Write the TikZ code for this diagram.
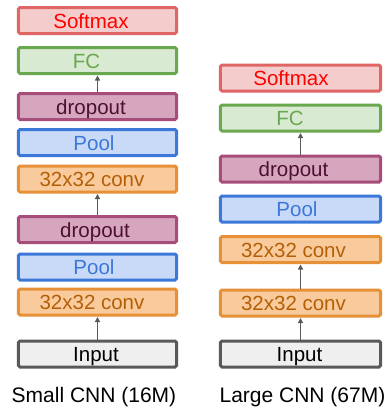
\documentclass[tikz,border=0pt]{standalone}
\usepackage{fontspec}
\setmainfont{Liberation Sans}
\usetikzlibrary{arrows.meta}
\definecolor{smF}{HTML}{F4CCCC}\definecolor{smD}{HTML}{E06666}\definecolor{smT}{HTML}{FF0000}
\definecolor{fcF}{HTML}{D9EAD3}\definecolor{fcD}{HTML}{6AA84F}\definecolor{fcT}{HTML}{6AA84F}
\definecolor{doF}{HTML}{D5A6BD}\definecolor{doD}{HTML}{A64D79}\definecolor{doT}{HTML}{4C1130}
\definecolor{plF}{HTML}{C9DAF8}\definecolor{plD}{HTML}{3C78D8}\definecolor{plT}{HTML}{3C78D8}
\definecolor{cvF}{HTML}{F9CB9C}\definecolor{cvD}{HTML}{E69138}\definecolor{cvT}{HTML}{B45F06}
\definecolor{inF}{HTML}{EFEFEF}\definecolor{inD}{HTML}{595959}\definecolor{inT}{HTML}{000000}
\definecolor{arr}{HTML}{595959}
\newcommand{\lsh}[1]{\kern#1bp}
\tikzset{
  layer/.style={draw, line width=3bp, rounded corners=1.5bp, minimum height=26bp,
    inner ysep=0bp, inner xsep=0bp, text height=15bp, text depth=0bp,
    font=\fontsize{20.5bp}{24bp}\selectfont},
  lw/.style={minimum width=158bp},
  rw/.style={minimum width=160bp},
  softmax/.style={layer, fill=smF, draw=smD, text=smT},
  fc/.style={layer, fill=fcF, draw=fcD, text=fcT},
  drop/.style={layer, fill=doF, draw=doD, text=doT},
  pool/.style={layer, fill=plF, draw=plD, text=plT},
  conv/.style={layer, fill=cvF, draw=cvD, text=cvT},
  inp/.style={layer, fill=inF, draw=inD, text=inT},
  conn/.style={draw=arr, line width=1.3bp, -{Triangle[length=5bp,width=5bp]}, shorten >=0.5bp},
  caption/.style={font=\fontsize{21bp}{25bp}\selectfont, text=black, inner sep=0pt}
}
\begin{document}
\begin{tikzpicture}[x=1bp,y=-1bp]
\useasboundingbox (0,0) rectangle (388,409);
% left column
\node[softmax,lw] (ls) at (97.5,20.5) {Softmax\lsh{13}};
\node[fc,lw] (lf) at (97.5,60.5) {FC\lsh{22}};
\node[drop,lw] (ld1) at (97.5,106.5) {dropout\lsh{13}};
\node[pool,lw] (lp1) at (97.5,142.5) {Pool\lsh{7}};
\node[conv,lw] (lc1) at (97.5,179) {32x32 conv\lsh{11}};
\node[drop,lw] (ld2) at (97.5,229.5) {dropout\lsh{5}};
\node[pool,lw] (lp2) at (97.5,267) {Pool\lsh{7}};
\node[conv,lw] (lc2) at (97.5,302) {32x32 conv\lsh{11}};
\node[inp,lw] (li) at (97.5,354) {Input\lsh{3}};
\draw[conn] (ld1.north) -- (lf.south);
\draw[conn] (ld2.north) -- (lc1.south);
\draw[conn] (li.north) -- (lc2.south);
\node[caption] (lcap) at (94,397) {Small CNN (16M)};
% right column
\node[softmax,rw] (rs) at (300.5,78) {Softmax\lsh{19}};
\node[fc,rw] (rf) at (300.5,118) {FC\lsh{21}};
\node[drop,rw] (rd) at (300.5,169) {dropout\lsh{14}};
\node[pool,rw] (rp) at (300.5,209) {Pool\lsh{7}};
\node[conv,rw] (rc1) at (300.5,249.5) {32x32 conv\lsh{14}};
\node[conv,rw] (rc2) at (300.5,303) {32x32 conv\lsh{14}};
\node[inp,rw] (ri) at (300.5,354) {Input\lsh{2}};
\draw[conn] (rd.north) -- (rf.south);
\draw[conn] (rc2.north) -- (rc1.south);
\draw[conn] (ri.north) -- (rc2.south);
\node[caption] (rcap) at (302.5,397) {Large CNN (67M)};
\end{tikzpicture}
\end{document}
